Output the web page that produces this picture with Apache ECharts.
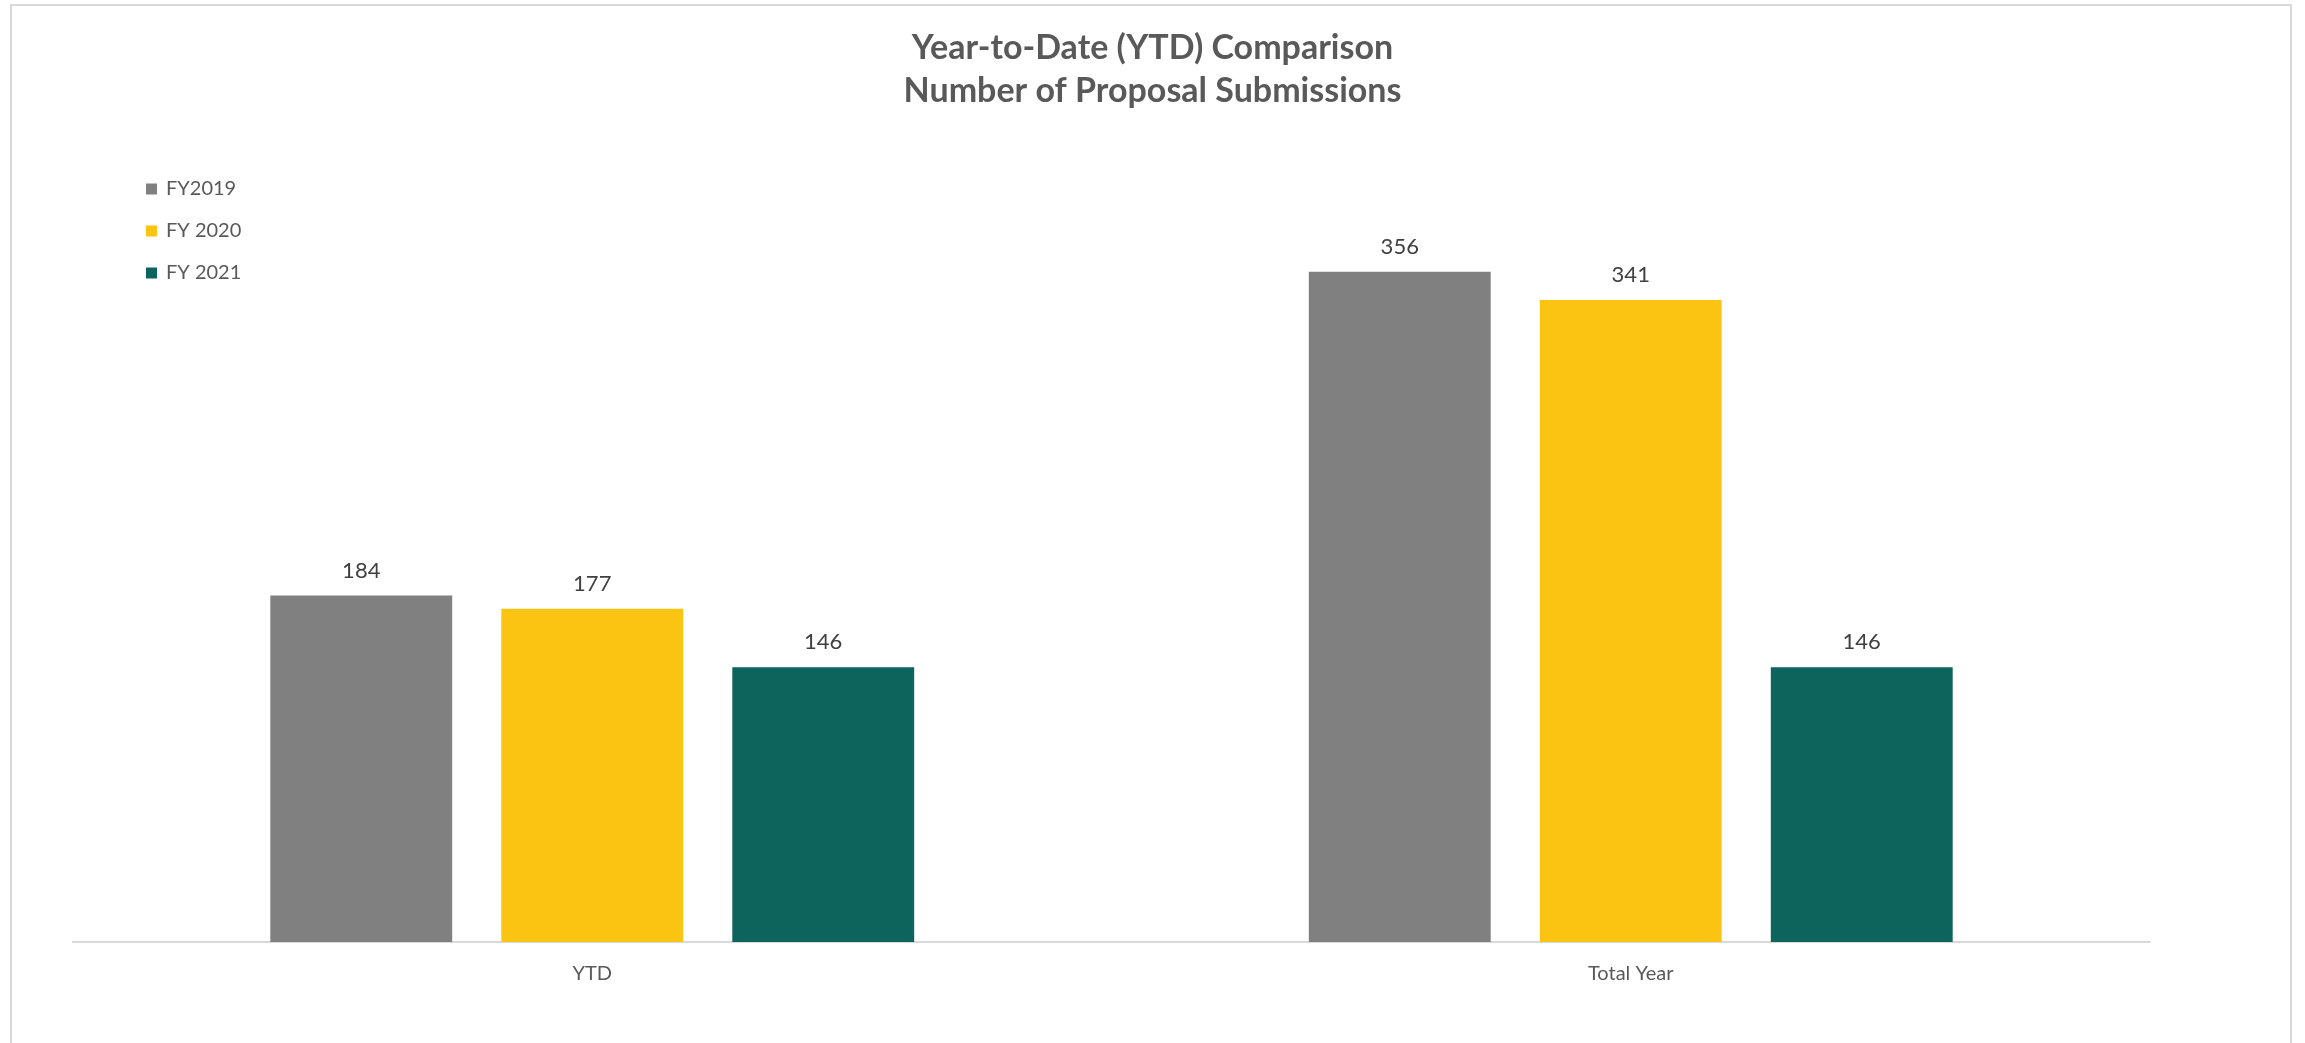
<!DOCTYPE html>
<html>
<head>
<meta charset="utf-8">
<title>Year-to-Date (YTD) Comparison</title>
<script src="https://cdn.jsdelivr.net/npm/echarts@6/dist/echarts.min.js"></script>
<style>
  html, body { margin: 0; padding: 0; background: #ffffff; }
  #chart { width: 2305px; height: 1043px; }
</style>
</head>
<body>
<div id="chart"></div>
<script>
// Proposal submissions by fiscal year
const categories = ['YTD', 'Total Year'];
const fy2019 = [184, 356];
const fy2020 = [177, 341];
const fy2021 = [146, 146];
const seriesNames = ['FY2019', 'FY 2020', 'FY 2021'];
const seriesColors = ['#808080', '#fcc412', '#0c645c'];

const FONT = 'Lato, "Open Sans", sans-serif';
const TEXT = '#595959';

function barSeries(name, data, color) {
  return {
    name: name,
    type: 'bar',
    data: data,
    barGap: '27%',
    barCategoryGap: '38%',
    itemStyle: { color: color },
    label: {
      show: true,
      position: 'top',
      distance: 14,
      color: '#404040',
      fontFamily: FONT,
      fontSize: 22
    }
  };
}

const chart = echarts.init(document.getElementById('chart'), null, { renderer: 'canvas' });

chart.setOption({
  backgroundColor: '#ffffff',
  animation: false,
  title: {
    text: 'Year-to-Date (YTD) Comparison\nNumber of Proposal Submissions',
    left: 'center',
    top: 22,
    textStyle: {
      fontFamily: FONT,
      fontWeight: 'bold',
      fontSize: 34,
      lineHeight: 43,
      color: TEXT
    }
  },
  legend: {
    orient: 'vertical',
    left: 141,
    top: 174,
    icon: 'rect',
    itemWidth: 11,
    itemHeight: 11,
    itemGap: 22,
    textStyle: { fontFamily: FONT, fontSize: 20, color: TEXT, padding: [0, 0, 0, 4] }
  },
  grid: { left: 73, right: 155, top: 189, bottom: 101, containLabel: false },
  xAxis: {
    type: 'category',
    data: categories,
    axisLine: { show: true, lineStyle: { color: '#d9d9d9', width: 2 } },
    axisTick: { show: false },
    axisLabel: { color: TEXT, fontFamily: FONT, fontSize: 20, margin: 22 }
  },
  yAxis: {
    type: 'value',
    min: 0,
    max: 400,
    show: false,
    splitLine: { show: false }
  },
  series: [
    barSeries(seriesNames[0], fy2019, seriesColors[0]),
    barSeries(seriesNames[1], fy2020, seriesColors[1]),
    barSeries(seriesNames[2], fy2021, seriesColors[2])
  ],
  graphic: [
    {
      type: 'rect',
      silent: true,
      z: -1,
      shape: { x: 11, y: 5, width: 2280, height: 1060 },
      style: { fill: 'none', stroke: '#d9d9d9', lineWidth: 2 }
    }
  ]
});
</script>
</body>
</html>
